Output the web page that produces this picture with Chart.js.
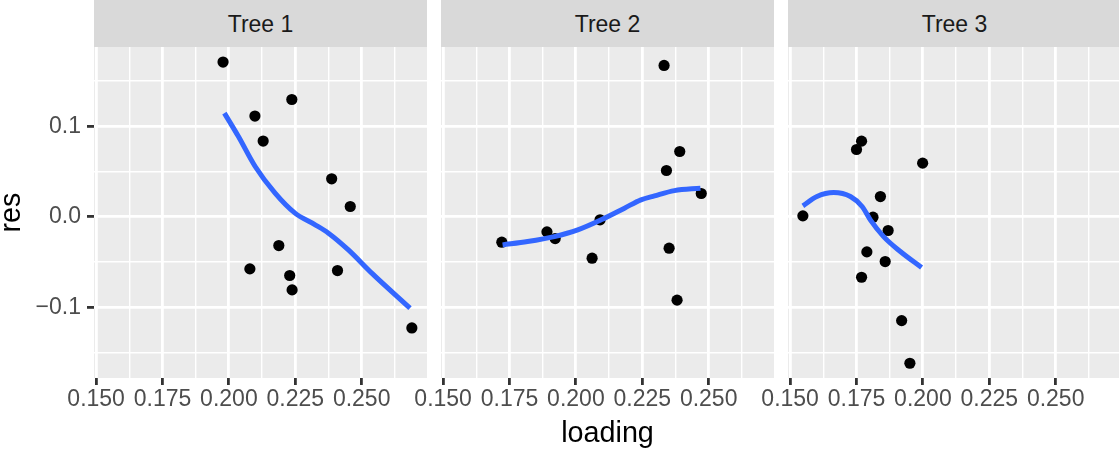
<!DOCTYPE html>
<html><head><meta charset="utf-8">
<script src="https://cdn.jsdelivr.net/npm/chart.js@4/dist/chart.umd.min.js"></script>
<style>
html,body{margin:0;padding:0;background:#fff;width:1119px;height:451px;overflow:hidden;position:relative;}
.strip{position:absolute;top:0;height:47px;width:333px;background:#D9D9D9;color:#1A1A1A;font:23px "Liberation Sans",Arial,sans-serif;display:flex;align-items:center;justify-content:center;box-sizing:border-box;padding-top:2px;}
canvas{position:absolute;top:47px;}
</style></head><body>
<script>
// ---- data ----
const panelTitles = ["Tree 1", "Tree 2", "Tree 3"];

const tree1Loading = [0.1978, 0.2098, 0.2237, 0.2129, 0.2387, 0.2457, 0.2188, 0.2079, 0.2229, 0.2238, 0.2409, 0.2689];
const tree1Res     = [0.171, 0.1113, 0.1296, 0.0837, 0.042, 0.0114, -0.0317, -0.0575, -0.0648, -0.0807, -0.0593, -0.1227];
const tree1FitLoading = [0.1983, 0.2036, 0.2099, 0.2174, 0.2249, 0.2325, 0.2375, 0.2450, 0.2538, 0.2682];
const tree1FitRes     = [0.1146, 0.0887, 0.0556, 0.0262, 0.0041, -0.0088, -0.018, -0.0365, -0.0622, -0.1009];

const tree2Loading = [0.2332, 0.2391, 0.2341, 0.2472, 0.2091, 0.1891, 0.1922, 0.1721, 0.2061, 0.2351, 0.2381];
const tree2Res     = [0.1672, 0.0722, 0.0512, 0.0258, -0.0033, -0.0166, -0.024, -0.028, -0.0457, -0.0346, -0.092];
const tree2FitLoading = [0.1724, 0.1818, 0.1919, 0.2007, 0.2095, 0.2183, 0.2245, 0.2296, 0.2371, 0.2469];
const tree2FitRes     = [-0.031, -0.0273, -0.0218, -0.0144, -0.0033, 0.0096, 0.0188, 0.0232, 0.029, 0.0317];

const tree3Loading = [0.1548, 0.1769, 0.1750, 0.1999, 0.1840, 0.1812, 0.1869, 0.1789, 0.1858, 0.1769, 0.1920, 0.1951];
const tree3Res     = [0.0011, 0.0836, 0.0744, 0.0593, 0.0224, -0.0004, -0.0151, -0.0387, -0.0494, -0.0667, -0.1146, -0.1617];
const tree3FitLoading = [0.1548, 0.1601, 0.1664, 0.1727, 0.1771, 0.1802, 0.1852, 0.1915, 0.1995];
const tree3FitRes     = [0.0122, 0.0224, 0.0268, 0.0224, 0.0114, -0.0033, -0.0218, -0.0383, -0.056];

const xMajorTicks = [0.150, 0.175, 0.200, 0.225, 0.250];
const xMinorTicks = [0.1625, 0.1875, 0.2125, 0.2375, 0.2625];
const yMajorTicks = [-0.1, 0.0, 0.1];
const yMinorTicks = [-0.15, -0.05, 0.05, 0.15];
const xRange = [0.1492, 0.2746];
const yRange = [-0.178, 0.1876];

// ---- layout ----
const panelLefts = [94, 441, 788];
const AXW = 94, PW = 333, CH = 404, XAXH = 73;
const FONT = '"Liberation Sans", Arial, sans-serif';

const trees = [
  {x: tree1Loading, y: tree1Res, fx: tree1FitLoading, fy: tree1FitRes},
  {x: tree2Loading, y: tree2Res, fx: tree2FitLoading, fy: tree2FitRes},
  {x: tree3Loading, y: tree3Res, fx: tree3FitLoading, fy: tree3FitRes}
];

const bgPlugin = {
  id: 'panelBg',
  beforeDraw(chart) {
    const {ctx, chartArea: a} = chart;
    ctx.save();
    ctx.fillStyle = '#EBEBEB';
    ctx.fillRect(a.left, a.top, a.right - a.left, a.bottom - a.top);
    ctx.restore();
  }
};

const pts = (xs, ys) => xs.map((v, i) => ({x: v, y: ys[i]}));
const xAll = [...xMajorTicks, ...xMinorTicks].sort((a, b) => a - b);
const yAll = [...yMajorTicks, ...yMinorTicks].sort((a, b) => a - b);
const fmtY = v => (v < 0 ? '\u2212' : '') + Math.abs(v).toFixed(1);

panelTitles.forEach((title, i) => {
  const strip = document.createElement('div');
  strip.className = 'strip';
  strip.style.left = panelLefts[i] + 'px';
  strip.textContent = title;
  document.body.appendChild(strip);

  const cv = document.createElement('canvas');
  cv.width = AXW + PW; cv.height = CH;
  cv.style.left = (panelLefts[i] - AXW) + 'px';
  cv.style.width = (AXW + PW) + 'px'; cv.style.height = CH + 'px';
  document.body.appendChild(cv);

  const t = trees[i];
  const first = i === 0;
  new Chart(cv, {
    type: 'scatter',
    data: {
      datasets: [
        {data: pts(t.fx, t.fy), showLine: true, borderColor: '#3366FF', borderWidth: 5,
         pointRadius: 0, cubicInterpolationMode: 'monotone', order: 0, fill: false},
        {data: pts(t.x, t.y), backgroundColor: '#000000', borderWidth: 0,
         pointRadius: 5.6, pointHoverRadius: 5.6, order: 1}
      ]
    },
    options: {
      responsive: false, animation: false, devicePixelRatio: 1,
      layout: {padding: 0, autoPadding: false},
      plugins: {legend: {display: false}, tooltip: {enabled: false}},
      scales: {
        x: {
          type: 'linear', min: xRange[0], max: xRange[1],
          afterBuildTicks: ax => { ax.ticks = xAll.map(v => ({value: v})); },
          afterFit: ax => { ax.height = XAXH; ax.paddingLeft = 0; ax.paddingRight = 0; },
          ticks: {autoSkip: false, maxRotation: 0, minRotation: 0, padding: 3,
            color: '#4D4D4D', font: {family: FONT, size: 23, lineHeight: 1},
            callback: v => xMajorTicks.includes(v) ? v.toFixed(3) : ''},
          grid: {color: '#FFFFFF',
            lineWidth: c => xMajorTicks.includes(c.tick.value) ? 2.8 : 1.4,
            tickLength: 7, tickWidth: 2.8,
            tickColor: c => xMajorTicks.includes(c.tick.value) ? '#333333' : 'rgba(0,0,0,0)'},
          border: {display: false},
          title: {display: i === 1, text: 'loading', color: '#000000',
            font: {family: FONT, size: 28.75, lineHeight: 1}, padding: {top: 3, bottom: 3}}
        },
        y: {
          type: 'linear', min: yRange[0], max: yRange[1],
          afterBuildTicks: ax => { ax.ticks = yAll.map(v => ({value: v})); },
          afterFit: ax => { ax.width = AXW; ax.paddingTop = 0; ax.paddingBottom = 0; },
          ticks: {display: first, padding: 6, color: '#4D4D4D',
            font: {family: FONT, size: 23, lineHeight: 1},
            callback: v => yMajorTicks.includes(v) ? fmtY(v) : ''},
          grid: {color: '#FFFFFF', drawTicks: first,
            lineWidth: c => yMajorTicks.includes(c.tick.value) ? 2.8 : 1.4,
            tickLength: 7, tickWidth: 2.8,
            tickColor: c => yMajorTicks.includes(c.tick.value) ? '#333333' : 'rgba(0,0,0,0)'},
          border: {display: false},
          title: {display: first, text: 'res', color: '#000000',
            font: {family: FONT, size: 28.75, lineHeight: 0.83}, padding: 0}
        }
      }
    },
    plugins: [bgPlugin]
  });
});
</script>
</body></html>
